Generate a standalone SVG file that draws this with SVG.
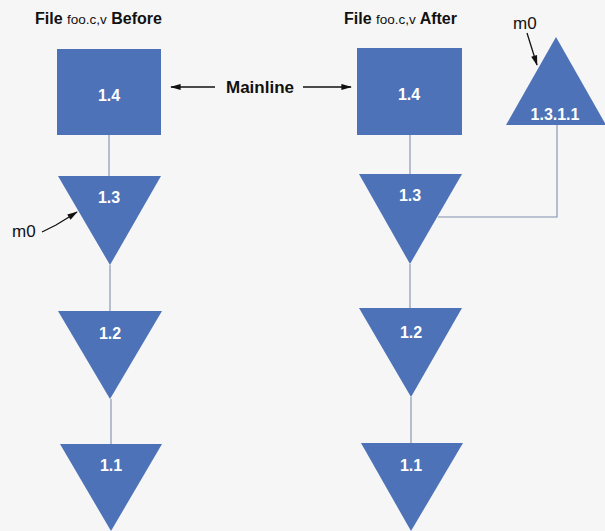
<svg xmlns="http://www.w3.org/2000/svg" width="605" height="531" viewBox="0 0 605 531">
<style>
.shape{fill:#4d72b8}
.lbl{font-family:"Liberation Sans",Arial,sans-serif;font-weight:bold;font-size:16px;fill:#fff;text-anchor:middle}
.t{font-family:"Liberation Sans",Arial,sans-serif;font-weight:bold;font-size:16px;fill:#111}
.ts{font-weight:normal;font-size:13.5px}
.m{font-family:"Liberation Sans",Arial,sans-serif;font-size:17px;fill:#111}
.conn{stroke:#8090ad;stroke-width:1.1;fill:none}
.arr{stroke:#111;stroke-width:1.3;fill:none}
</style>
<defs>
<marker id="ah" viewBox="0 0 12 8" refX="11" refY="4" markerWidth="12" markerHeight="7" markerUnits="userSpaceOnUse" orient="auto">
<path d="M0,0.5 L12,4 L0,7.5 z" fill="#111"/>
</marker>
</defs>
<rect width="605" height="531" fill="#f6f6f6"/>
<g id="titles">
<text class="t" x="35" y="24">File <tspan class="ts">foo.c,v</tspan> Before</text>
<text class="t" x="344" y="24">File <tspan class="ts">foo.c,v</tspan> After</text>
</g>
<g id="connectors">
<line class="conn" x1="109" y1="135" x2="109" y2="176"/>
<line class="conn" x1="110" y1="265" x2="110" y2="311"/>
<line class="conn" x1="111" y1="399" x2="111" y2="444"/>
<line class="conn" x1="410" y1="135" x2="410" y2="174"/>
<line class="conn" x1="410" y1="264" x2="410" y2="308"/>
<line class="conn" x1="411" y1="397" x2="411" y2="443"/>
<polyline class="conn" points="557,125 557,217 438,217"/>
</g>
<g id="mainline">
<line class="arr" x1="215" y1="87" x2="171" y2="87" marker-end="url(#ah)"/>
<text class="t" x="226" y="93" style="font-size:17px">Mainline</text>
<line class="arr" x1="303" y1="87" x2="351" y2="87" marker-end="url(#ah)"/>
</g>
<g id="before-1.4"><rect class="shape" x="57" y="49" width="104" height="86"/><text class="lbl" x="109" y="101">1.4</text></g>
<g id="before-1.3"><polygon class="shape" points="58,176 161,176 110,265"/><text class="lbl" x="109" y="203">1.3</text></g>
<g id="before-1.2"><polygon class="shape" points="58,311 162,311 110,399"/><text class="lbl" x="110" y="339">1.2</text></g>
<g id="before-1.1"><polygon class="shape" points="60,444 162,444 111,531"/><text class="lbl" x="111" y="471">1.1</text></g>
<g id="before-m0">
<text class="m" x="12" y="237">m0</text>
<path class="arr" d="M42,232 Q50,228 56,225 Q66,219 77,212" marker-end="url(#ah)"/>
</g>
<g id="after-1.4"><rect class="shape" x="357" y="48" width="105" height="87"/><text class="lbl" x="409" y="100">1.4</text></g>
<g id="after-1.3"><polygon class="shape" points="359,174 462,174 410,264"/><text class="lbl" x="410" y="201">1.3</text></g>
<g id="after-1.2"><polygon class="shape" points="359,308 462,308 411,397"/><text class="lbl" x="411" y="338">1.2</text></g>
<g id="after-1.1"><polygon class="shape" points="361,443 463,443 411,531"/><text class="lbl" x="411" y="471">1.1</text></g>
<g id="after-1.3.1.1"><polygon class="shape" points="556,37 606,125 506,125"/><text class="lbl" x="555" y="120">1.3.1.1</text></g>
<g id="after-m0">
<text class="m" x="513" y="29">m0</text>
<line class="arr" x1="527" y1="33" x2="537" y2="65" marker-end="url(#ah)"/>
</g>
</svg>
